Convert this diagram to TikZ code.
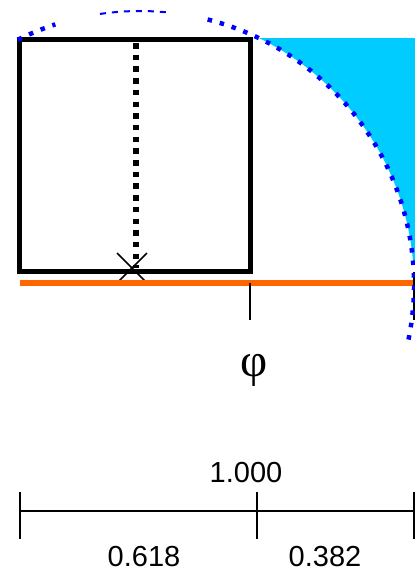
\documentclass[tikz,border=0pt]{standalone}
\usepackage{fontspec}
\usetikzlibrary{calc}
\setmainfont{Liberation Sans}
\newfontfamily\phifont{Liberation Serif}
\definecolor{skyfill}{RGB}{0,204,255}
\definecolor{arcblue}{RGB}{0,0,255}
\definecolor{baseorange}{RGB}{255,102,0}
\begin{document}
\begin{tikzpicture}[x=1pt,y=-1pt,
  sqline/.style={line width=5pt,line join=miter},
  bluedots/.style={arcblue,line width=4.5pt,dash pattern=on 4.5pt off 8pt},
  bluethin/.style={arcblue,line width=2pt,dash pattern=on 6pt off 6pt},
  blackdots/.style={line width=5.5pt,dash pattern=on 5.5pt off 6.2pt},
  ticks/.style={line width=1.6pt},
  numtext/.style={font=\fontsize{29}{29}\selectfont,anchor=base,inner sep=0pt}]
\useasboundingbox (0,0) rectangle (415,571);
\coordinate (C) at (140,285);
% cyan region outside the circle
\begin{scope}
  \clip (251,38) rectangle (415,262);
  \fill[skyfill,even odd rule] (240,38) rectangle (430,320) (C) circle[radius=274];
\end{scope}
% square
\coordinate (sqTL) at (19.5,39.5);
\coordinate (sqBR) at (250.5,271);
\draw[sqline] (sqTL) rectangle (sqBR);
% dotted vertical
\coordinate (vTop) at (136,43);
\coordinate (vBot) at (136,268);
\draw[blackdots] (vTop) -- (vBot);
% X mark
\coordinate (xm) at (132,268);
\draw[line width=1.6pt] ($(xm)+(-15,-15)$) -- ($(xm)+(15,15)$);
\draw[line width=1.6pt] ($(xm)+(-15,15)$) -- ($(xm)+(15,-15)$);
% orange base line
\coordinate (oL) at (20,283);
\coordinate (oR) at (414,283);
\draw[baseorange,line width=5.5pt] (oL) -- (oR);
% ticks under/at orange line
\coordinate (phiTickA) at (250,283);
\coordinate (phiTickB) at (250,320);
\draw[line width=2pt] (phiTickA) -- (phiTickB);
\coordinate (endTickA) at (414.5,272);
\coordinate (endTickB) at (414.5,320);
\draw[line width=3pt] (endTickA) -- (endTickB);
% circle arcs
\draw[bluedots] ($(C)+(-116.5:274)$) arc[start angle=-116.5,end angle=-108,radius=274];
\draw[bluethin] ($(C)+(-98.4:274)$) arc[start angle=-98.4,end angle=-84.3,radius=274];
\draw[bluedots] ($(C)+(-75.7:274)$) arc[start angle=-75.7,end angle=12.8,radius=274];
% phi label
\node[anchor=base,inner sep=0pt,font=\phifont\fontsize{47}{47}\selectfont] (phi) at (254.5,376) {φ};
% scale bar
\coordinate (bL) at (20,511);
\coordinate (bM) at (257,511);
\coordinate (bR) at (414,511);
\draw[ticks] (bL) -- (bR);
\draw[ticks] ($(bL)+(0,-19)$) -- ($(bL)+(0,28)$);
\draw[ticks] ($(bM)+(0,-19)$) -- ($(bM)+(0,28)$);
\draw[ticks] ($(bR)+(0,-19)$) -- ($(bR)+(0,28)$);
\node[numtext] (tot) at (246,482) {1.000};
\node[numtext] (left) at (144,566) {0.618};
\node[numtext] (right) at (325,566) {0.382};
\end{tikzpicture}
\end{document}
